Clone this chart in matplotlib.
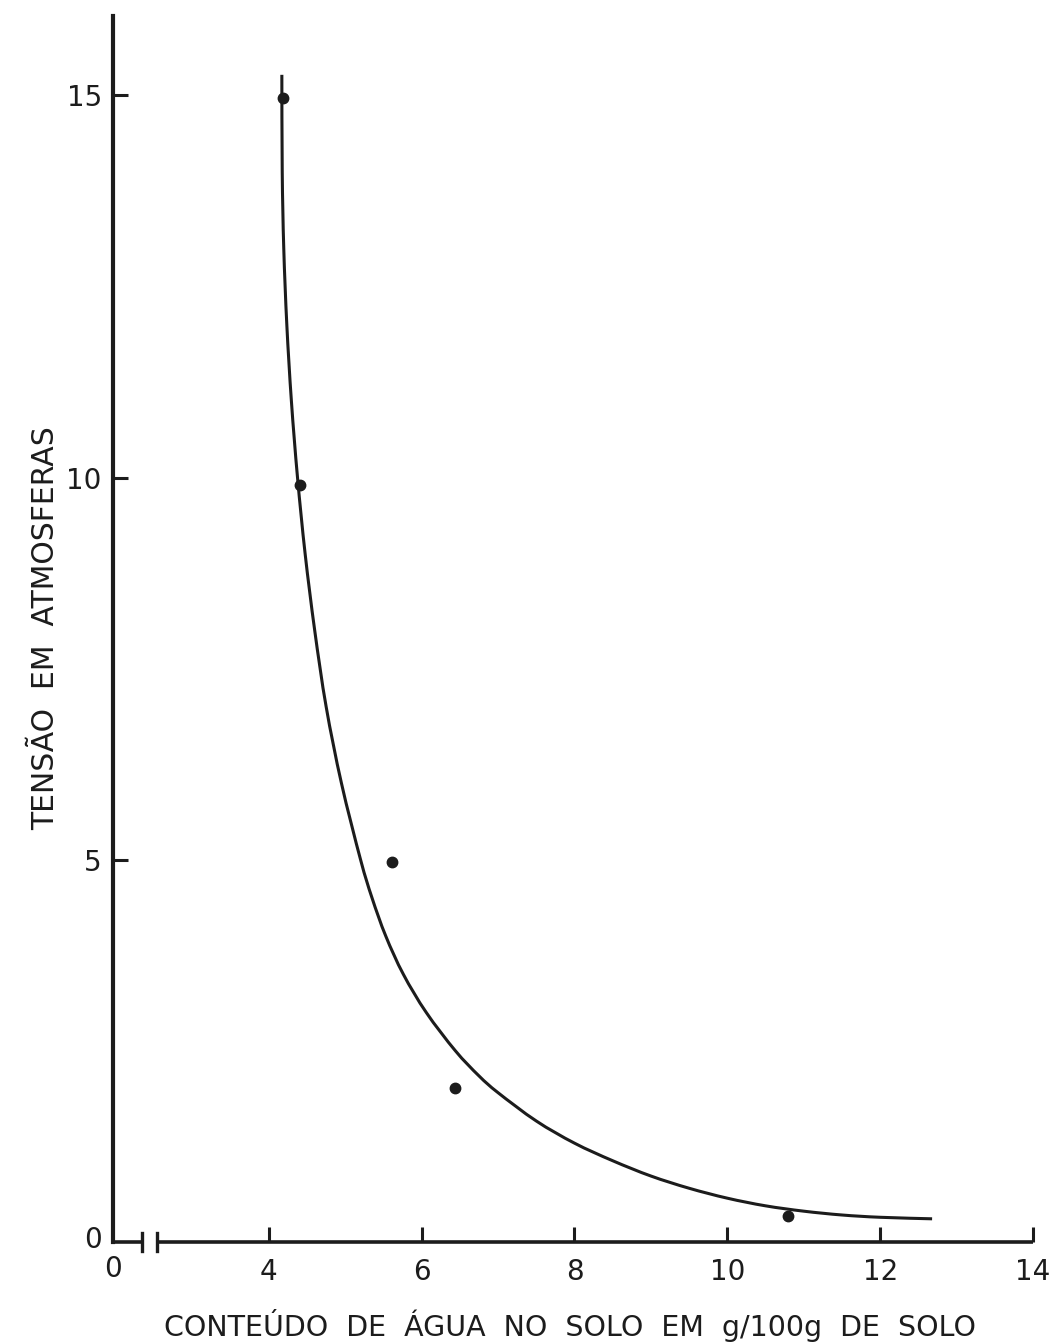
import matplotlib
matplotlib.use("Agg")
import matplotlib.pyplot as plt
from matplotlib.path import Path
from matplotlib.patches import PathPatch

# Measured points: soil water content (g/100 g soil) vs. tension (atm)
water_content = [4.19, 4.41, 5.61, 6.43, 10.79]
tension_atm = [14.97, 9.90, 4.97, 2.01, 0.34]

# Retention curve traced through the measurements
curve_x = [4.17, 4.175, 4.195, 4.235, 4.295, 4.375, 4.475, 4.60, 4.75, 4.95,
           5.20, 5.35, 5.53, 5.76, 6.06, 6.44, 6.75, 7.00, 7.50, 8.00, 8.50,
           9.00, 9.50, 10.00, 10.50, 11.00, 11.50, 12.00, 12.68]
curve_y = [15.27, 14.0, 13.0, 12.0, 11.0, 10.0, 9.0, 8.0, 7.0, 6.0,
           5.0, 4.5, 4.0, 3.5, 3.0, 2.5, 2.17, 1.95, 1.58, 1.29, 1.06,
           0.86, 0.70, 0.57, 0.47, 0.40, 0.35, 0.32, 0.30]

x_ticks = [4, 6, 8, 10, 12, 14]
y_ticks = [5, 10, 15]
x_origin = 1.96          # position where the broken axis starts (labelled 0)
x_break = (2.34, 2.53)   # break marks on the horizontal axis

ink = "#1c1c1c"
font = "DejaVu Sans"


def smooth_path(xs, ys):
    """Catmull-Rom spline through the traced points, as cubic Bezier segments."""
    pts = list(zip(xs, ys))
    verts = [pts[0]]
    codes = [Path.MOVETO]
    n = len(pts)
    for i in range(n - 1):
        p0 = pts[i - 1] if i > 0 else pts[i]
        p1 = pts[i]
        p2 = pts[i + 1]
        p3 = pts[i + 2] if i + 2 < n else pts[i + 1]
        c1 = (p1[0] + (p2[0] - p0[0]) / 6, p1[1] + (p2[1] - p0[1]) / 6)
        c2 = (p2[0] - (p3[0] - p1[0]) / 6, p2[1] - (p3[1] - p1[1]) / 6)
        verts += [c1, c2, p2]
        codes += [Path.CURVE4] * 3
    return Path(verts, codes)


fig = plt.figure(figsize=(10.52, 13.43), dpi=100)
ax = fig.add_axes([0.1074, 0.0754, 0.8745, 0.9127])
ax.set_xlim(x_origin, 14)
ax.set_ylim(0, 16.04)

for side in ("top", "right", "bottom"):
    ax.spines[side].set_visible(False)
ax.spines["left"].set_linewidth(3.0)
ax.spines["left"].set_color(ink)

# broken horizontal axis
line_kw = dict(color=ink, lw=2.6, clip_on=False, solid_capstyle="butt")
ax.plot([x_origin, x_break[0]], [0, 0], **line_kw)
ax.plot([x_break[1], 14], [0, 0], **line_kw)
for xb in x_break:
    ax.plot([xb, xb], [-0.12, 0.12], color=ink, lw=2.4, clip_on=False)

ax.set_xticks(x_ticks)
ax.set_xticklabels([str(t) for t in x_ticks])
ax.set_yticks(y_ticks)
ax.set_yticklabels([str(t) for t in y_ticks])
ax.tick_params(axis="x", direction="in", length=10.5, width=2.2, color=ink,
               pad=12, labelsize=20, labelcolor=ink)
ax.tick_params(axis="y", direction="in", length=10.5, width=2.2, color=ink,
               pad=8, labelsize=20, labelcolor=ink)
for lab in ax.get_xticklabels() + ax.get_yticklabels():
    lab.set_family(font)

# origin labels
ax.text(x_origin - 0.15, 0.02, "0", ha="right", va="center", fontsize=20,
        color=ink, family=font)
ax.text(x_origin, -0.36, "0", ha="center", va="center", fontsize=20,
        color=ink, family=font)

ax.add_patch(PathPatch(smooth_path(curve_x, curve_y), facecolor="none",
                       edgecolor=ink, lw=2.2, clip_on=False))
ax.plot(water_content, tension_atm, "o", color=ink, markersize=7.5, clip_on=False)

fig.text(0.542, 0.0134, "CONTEÚDO  DE  ÁGUA  NO  SOLO  EM  g/100g  DE  SOLO",
         ha="center", va="center", fontsize=20.5, color=ink, family=font)
fig.text(0.043, 0.532, "TENSÃO  EM  ATMOSFERAS", rotation=90, ha="center",
         va="center", fontsize=21.5, color=ink, family=font)

fig.savefig("out.png", dpi=100, facecolor="white")
